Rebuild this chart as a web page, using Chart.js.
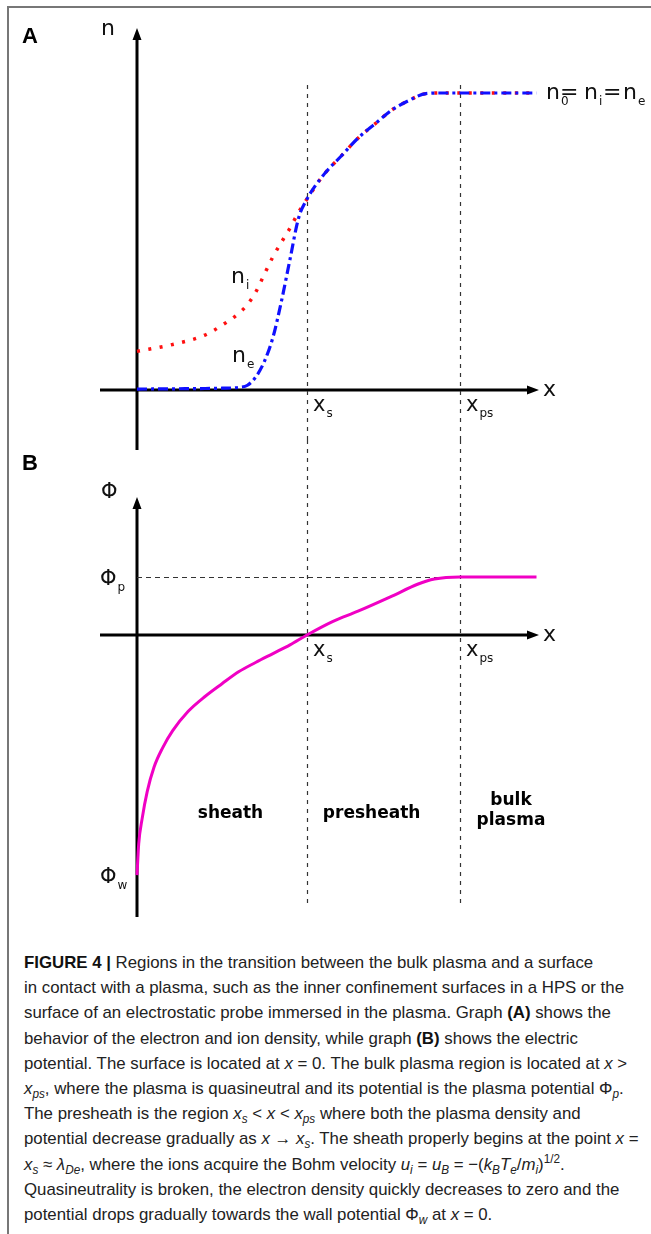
<!DOCTYPE html>
<html>
<head>
<meta charset="utf-8">
<script src="https://cdn.jsdelivr.net/npm/chart.js@4.4.0/dist/chart.umd.min.js"></script>
<style>
  body { margin: 0; background: #fff; width: 651px; height: 1234px; position: relative; overflow: hidden; }
  #frame { position: absolute; left: 7px; top: 6px; width: 700px; height: 1300px; border-left: 2px solid #777; border-top: 2px solid #777; }
  canvas { position: absolute; left: 0; }
  #chartA { top: 0; }
  #chartB { top: 440px; }
  #caption { position: absolute; left: 24px; top: 950px; font-family: "Liberation Sans", Arial, sans-serif; font-size: 17px; line-height: 25.2px; color: #222; transform-origin: 0 0; white-space: nowrap; }
  #caption sub, #caption sup { font-size: 0.7em; line-height: 0; }
  #caption b { color: #111; }
</style>
</head>
<body>
<div id="frame"></div>
<canvas id="chartA" width="651" height="460"></canvas>
<canvas id="chartB" width="651" height="490"></canvas>
<div id="caption">
  <div><span><b>FIGURE 4 |</b> Regions in the transition between the bulk plasma and a surface</span></div>
  <div><span>in contact with a plasma, such as the inner confinement surfaces in a HPS or the</span></div>
  <div><span>surface of an electrostatic probe immersed in the plasma. Graph <b>(A)</b> shows the</span></div>
  <div><span>behavior of the electron and ion density, while graph <b>(B)</b> shows the electric</span></div>
  <div><span>potential. The surface is located at <i>x</i> = 0. The bulk plasma region is located at <i>x</i> &gt;</span></div>
  <div><span><i>x<sub>ps</sub></i>, where the plasma is quasineutral and its potential is the plasma potential Φ<sub><i>p</i></sub>.</span></div>
  <div><span>The presheath is the region <i>x<sub>s</sub></i> &lt; <i>x</i> &lt; <i>x<sub>ps</sub></i> where both the plasma density and</span></div>
  <div><span>potential decrease gradually as <i>x</i> → <i>x<sub>s</sub></i>. The sheath properly begins at the point <i>x</i> =</span></div>
  <div><span><i>x<sub>s</sub></i> ≈ <i>λ<sub>De</sub></i>, where the ions acquire the Bohm velocity <i>u<sub>i</sub></i> = <i>u<sub>B</sub></i> = −(<i>k<sub>B</sub>T<sub>e</sub></i>/<i>m<sub>i</sub></i>)<sup>1/2</sup>.</span></div>
  <div><span>Quasineutrality is broken, the electron density quickly decreases to zero and the</span></div>
  <div><span>potential drops gradually towards the wall potential Φ<sub><i>w</i></sub> at <i>x</i> = 0.</span></div>
</div>
<script>
// x is measured in units of the sheath edge x_s
const xS = 1.0;
const xPS = 1.9;
const xMarks = [xS, xPS];
const xMarkSubs = ['s', 'ps'];

// graph A: ion and electron density (n0 = 1)
const nX = [0, 0.2, 0.4, 0.5, 0.6, 0.65, 0.7, 0.75, 0.8, 0.85, 0.9, 0.95, 1.0, 1.1, 1.2, 1.3, 1.4, 1.5, 1.6, 1.7, 1.8, 1.9, 2.1, 2.35];
const nIon = [0.13, 0.152, 0.185, 0.218, 0.259, 0.288, 0.331, 0.391, 0.449, 0.498, 0.545, 0.598, 0.643, 0.726, 0.787, 0.848, 0.896, 0.943, 0.975, 0.998, 1, 1, 1, 1];
const nElec = [0.003, 0.004, 0.005, 0.006, 0.009, 0.016, 0.045, 0.097, 0.178, 0.30, 0.44, 0.578, 0.643, 0.726, 0.787, 0.848, 0.896, 0.943, 0.975, 0.998, 1, 1, 1, 1];

// graph B: electric potential (Phi_p = 1)
const phiX = [0, 0.01, 0.03, 0.06, 0.1, 0.15, 0.21, 0.3, 0.4, 0.5, 0.6, 0.7, 0.8, 0.9, 1.0, 1.15, 1.3, 1.5, 1.65, 1.75, 1.9, 2.1, 2.35];
const phi = [-4.14, -3.6, -3.17, -2.7, -2.28, -1.95, -1.65, -1.32, -1.06, -0.84, -0.63, -0.47, -0.32, -0.17, 0, 0.23, 0.41, 0.67, 0.875, 0.965, 1.0, 1.0, 1.0];
const phiMarks = [1.0, -4.14];
const phiMarkSubs = ['p', 'w'];
const regionNames = [['sheath'], ['presheath'], ['bulk', 'plasma']];
const regionCentres = [0.55, 1.38, 2.2];

const FONT = '"DejaVu Sans", Verdana, sans-serif';

// pixel of value 0 and value 1 -> scale min/max for a full-canvas chart area
function range(p0, p1, size) {
  const per = p1 - p0;
  const a = (0 - p0) / per, b = (size - p0) / per;
  return { min: Math.min(a, b), max: Math.max(a, b) };
}

function pairs(xs, ys) {
  return xs.map((x, i) => ({ x: x, y: ys[i] }));
}

function withSub(ctx, base, sub, x, y, size) {
  ctx.font = size + 'px ' + FONT;
  ctx.fillText(base, x, y);
  const w = ctx.measureText(base).width;
  ctx.font = Math.round(size * 0.55) + 'px ' + FONT;
  ctx.fillText(sub, x + w + 1, y + 6);
  return x + w + 1 + ctx.measureText(sub).width;
}

function drawAxes(chart, yTop, yBottom) {
  const { ctx, scales } = chart;
  const x0 = scales.x.getPixelForValue(0);
  const y0 = scales.y.getPixelForValue(0);
  const left = 100, right = 539;
  ctx.save();
  ctx.strokeStyle = '#000';
  ctx.fillStyle = '#000';
  ctx.lineWidth = 3;
  ctx.beginPath();
  ctx.moveTo(x0, yBottom);
  ctx.lineTo(x0, yTop + 8);
  ctx.moveTo(left, y0);
  ctx.lineTo(right - 8, y0);
  ctx.stroke();
  ctx.beginPath();
  ctx.moveTo(x0, yTop);
  ctx.lineTo(x0 - 4.5, yTop + 12);
  ctx.lineTo(x0 + 4.5, yTop + 12);
  ctx.closePath();
  ctx.moveTo(right, y0);
  ctx.lineTo(right - 12, y0 - 4.5);
  ctx.lineTo(right - 12, y0 + 4.5);
  ctx.closePath();
  ctx.fill();
  ctx.restore();
}

function drawMarks(chart, yFrom, yTo) {
  const { ctx, scales } = chart;
  const y0 = scales.y.getPixelForValue(0);
  ctx.save();
  ctx.strokeStyle = '#333';
  ctx.lineWidth = 1.2;
  ctx.setLineDash([4, 5]);
  xMarks.forEach(v => {
    const px = Math.round(scales.x.getPixelForValue(v)) + 0.5;
    ctx.beginPath();
    ctx.moveTo(px, yFrom);
    ctx.lineTo(px, yTo);
    ctx.stroke();
  });
  ctx.restore();
  ctx.save();
  ctx.fillStyle = '#111';
  ctx.textBaseline = 'alphabetic';
  xMarks.forEach((v, i) => {
    withSub(ctx, 'x', xMarkSubs[i], scales.x.getPixelForValue(v) + 6, y0 + 21, 21);
  });
  ctx.font = '22px ' + FONT;
  ctx.fillText('x', 543, y0 + 6);
  ctx.restore();
}

const panelA = {
  id: 'panelA',
  beforeDatasetsDraw(chart) {
    drawAxes(chart, 28, 450);
    drawMarks(chart, 85, 440);
  },
  afterDraw(chart) {
    const { ctx } = chart;
    ctx.save();
    ctx.fillStyle = '#000';
    ctx.font = 'bold 22px "Liberation Sans", Arial, sans-serif';
    ctx.fillText('A', 22, 43);
    ctx.fillStyle = '#111';
    ctx.font = '22px ' + FONT;
    ctx.fillText('n', 101, 35);
    withSub(ctx, 'n', 'i', 231, 283, 22);
    withSub(ctx, 'n', 'e', 232, 362, 22);
    // n0 = ni = ne
    withSub(ctx, 'n', '0', 546, 99, 22);
    ctx.font = '22px ' + FONT;
    ctx.fillText('=', 560, 99);
    withSub(ctx, 'n', 'i', 584, 99, 22);
    ctx.font = '22px ' + FONT;
    ctx.fillText('=', 603, 99);
    withSub(ctx, 'n', 'e', 623, 99, 22);
    ctx.restore();
  }
};

const panelB = {
  id: 'panelB',
  beforeDatasetsDraw(chart) {
    const { ctx, scales } = chart;
    drawAxes(chart, 57, 477);
    drawMarks(chart, 0, 467);
    const yp = Math.round(scales.y.getPixelForValue(phiMarks[0])) + 0.5;
    ctx.save();
    ctx.strokeStyle = '#333';
    ctx.lineWidth = 1.2;
    ctx.setLineDash([5, 4]);
    ctx.beginPath();
    ctx.moveTo(scales.x.getPixelForValue(0), yp);
    ctx.lineTo(scales.x.getPixelForValue(xPS), yp);
    ctx.stroke();
    ctx.restore();
  },
  afterDraw(chart) {
    const { ctx, scales } = chart;
    ctx.save();
    ctx.fillStyle = '#000';
    ctx.font = 'bold 22px "Liberation Sans", Arial, sans-serif';
    ctx.fillText('B', 22, 30);
    ctx.fillStyle = '#111';
    ctx.font = '21px ' + FONT;
    ctx.fillText('Φ', 101, 58);
    phiMarks.forEach((v, i) => {
      withSub(ctx, 'Φ', phiMarkSubs[i], 100, scales.y.getPixelForValue(v) + 8, 21);
    });
    ctx.fillStyle = '#000';
    ctx.font = 'bold 17px ' + FONT;
    ctx.textAlign = 'center';
    regionNames.forEach((lines, i) => {
      const cx = scales.x.getPixelForValue(regionCentres[i]);
      const top = lines.length > 1 ? 365 : 378;
      lines.forEach((t, j) => ctx.fillText(t, cx, top + j * 20));
    });
    ctx.restore();
  }
};

const xRange = range(137, 307, 651);
const yRangeA = range(390, 93, 460);
const yRangeB = range(195, 137, 490);

function baseOptions(yr) {
  return {
    responsive: false,
    animation: false,
    events: [],
    layout: { padding: 0 },
    plugins: { legend: { display: false }, tooltip: { enabled: false } },
    elements: { point: { radius: 0 } },
    scales: {
      x: { type: 'linear', display: false, min: xRange.min, max: xRange.max },
      y: { type: 'linear', display: false, min: yr.min, max: yr.max }
    }
  };
}

new Chart(document.getElementById('chartA'), {
  type: 'line',
  data: {
    datasets: [
      {
        label: 'n_e',
        data: pairs(nX, nElec),
        borderColor: '#1010ff',
        borderWidth: 3.2,
        borderDash: [10, 4, 3, 4],
        cubicInterpolationMode: 'monotone',
        fill: false,
        order: 0
      },
      {
        label: 'n_i',
        data: pairs(nX, nIon),
        borderColor: '#ff1010',
        borderWidth: 3.5,
        borderDash: [3, 8.5],
        cubicInterpolationMode: 'monotone',
        fill: false,
        order: 1
      }
    ]
  },
  options: baseOptions(yRangeA),
  plugins: [panelA]
});

new Chart(document.getElementById('chartB'), {
  type: 'line',
  data: {
    datasets: [{
      label: 'Phi',
      data: pairs(phiX, phi),
      borderColor: '#f000c4',
      borderWidth: 3,
      cubicInterpolationMode: 'monotone',
      fill: false
    }]
  },
  options: baseOptions(yRangeB),
  plugins: [panelB]
});

// squeeze the caption so the full lines end where the printed ones do
const cap = document.getElementById('caption');
const ref = cap.querySelectorAll('span')[1].getBoundingClientRect().width;
cap.style.transform = 'scaleX(' + (600 / ref) + ')';
</script>
</body>
</html>
